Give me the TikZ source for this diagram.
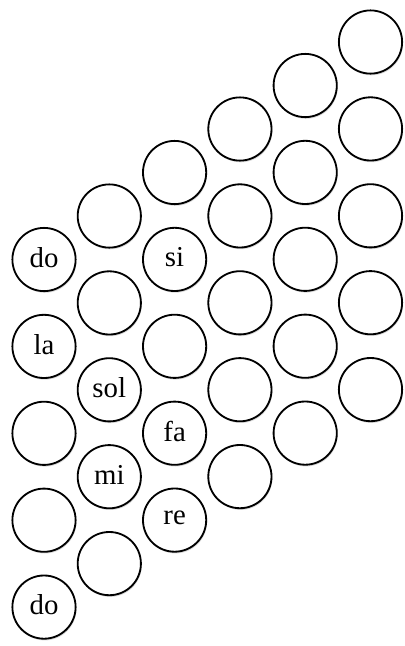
\documentclass[tikz,border=0pt]{standalone}
\usepackage{fontspec}
\setmainfont{Liberation Serif}
\usepackage{tikz}
\usetikzlibrary{shadows}

\begin{document}
\begin{tikzpicture}[x=0.025cm,y=-0.025cm,
  note/.style={circle,draw=black,line width=1.3pt,fill=white,minimum size=1.58cm,
    inner sep=0pt,drop shadow={shadow xshift=0.6pt,shadow yshift=-1.2pt,opacity=0.3}},
  notetext/.style={font=\fontsize{20.5}{22}\selectfont}]
  \useasboundingbox (0,0) rectangle (405,646);
  % six slanted columns of five circles each
  \foreach \c in {0,...,5}{
    \foreach \r in {0,...,4}{
      \node[note] (n\c\r) at ({44+65.3*\c},{259.5-43.5*\c+86.9*\r}) {};
    }
  }
  \foreach \c/\r/\txt in {0/0/do,0/1/la,0/4/do,1/2/sol,1/3/mi,2/1/si,2/3/fa,2/4/re}{
    \node[notetext] at ([yshift=1.5pt]n\c\r) {\txt};
  }
\end{tikzpicture}
\end{document}
